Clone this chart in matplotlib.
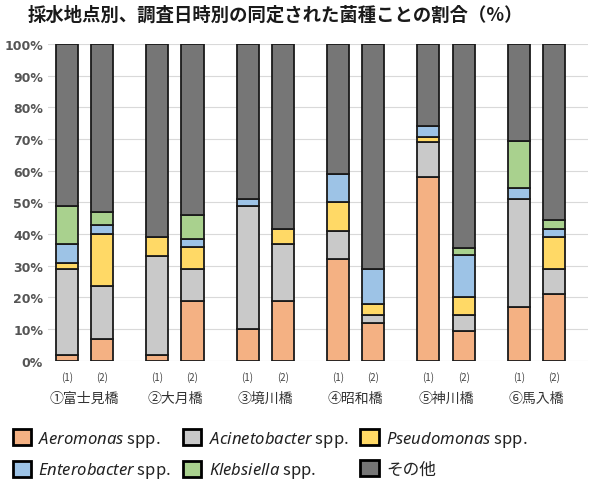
import matplotlib
matplotlib.use("Agg")
import matplotlib.pyplot as plt
from matplotlib.patches import Patch
import numpy as np

plt.rcParams['font.family'] = ['Noto Sans CJK JP', 'DejaVu Sans']
plt.rcParams['mathtext.fontset'] = 'custom'
plt.rcParams['mathtext.it'] = 'Noto Sans:italic'
plt.rcParams['mathtext.rm'] = 'Noto Sans'

sites = ["①富士見橋", "②大月橋", "③境川橋", "④昭和橋", "⑤神川橋", "⑥馬入橋"]
surveys = ["(1)", "(2)"]

# percentages per bar, ordered site by site: (1), (2)
aeromonas     = [2, 7, 2, 19, 10, 19, 32, 12, 58, 9.5, 17, 21]
acinetobacter = [27, 16.5, 31, 10, 39, 18, 9, 2.5, 11, 5, 34, 8]
pseudomonas   = [2, 16.5, 6, 7, 0, 4.5, 9, 3.5, 1.5, 5.5, 0, 10]
enterobacter  = [6, 3, 0, 2.5, 2, 0, 9, 11, 3.5, 13.5, 3.5, 2.5]
klebsiella    = [12, 4, 0, 7.5, 0, 0, 0, 0, 0, 2, 15, 3]
others        = [51, 53, 61, 54, 49, 58.5, 41, 71, 26, 64.5, 30.5, 55.5]

series = [
    (r"$\it{Aeromonas}$ spp.", aeromonas, "#F4B183"),
    (r"$\it{Acinetobacter}$ spp.", acinetobacter, "#C9C9C9"),
    (r"$\it{Pseudomonas}$ spp.", pseudomonas, "#FFD966"),
    (r"$\it{Enterobacter}$ spp.", enterobacter, "#9DC3E6"),
    (r"$\it{Klebsiella}$ spp.", klebsiella, "#A9D18E"),
    ("その他", others, "#767676"),
]

fig = plt.figure(figsize=(5.92, 4.89), dpi=100)
ax = fig.add_axes([0.081, 0.26, 0.912, 0.648])

centers = np.arange(len(sites))
offset = 0.195
width = 0.245
xpos = np.ravel(np.column_stack([centers - offset, centers + offset]))

bottom = np.zeros(len(xpos))
handles = []
for label, vals, color in series:
    vals = np.array(vals, dtype=float)
    ax.bar(xpos, vals, width, bottom=bottom, color=color,
           edgecolor="#1a1a1a", linewidth=1.3, zorder=3)
    bottom += vals
    handles.append(Patch(facecolor=color, edgecolor="black", linewidth=2, label=label))

ax.set_ylim(0, 100)
ax.set_xlim(-0.404, 5.57)
ax.set_yticks(np.arange(0, 101, 10))
ax.set_yticklabels([f"{v}%" for v in range(0, 101, 10)],
                   fontsize=9, fontweight="bold", color="#555555",
                   family=["DejaVu Sans"])
ax.set_xticks(xpos)
ax.set_xticklabels(surveys * len(sites), fontsize=7, color="#444444")
ax.tick_params(length=0)
ax.tick_params(axis="y", pad=3.5)
ax.tick_params(axis="x", pad=7)
ax.grid(axis="y", color="#d9d9d9", linewidth=0.8, zorder=0)
for s in ax.spines.values():
    s.set_visible(False)

for c, name in zip(centers, sites):
    ax.text(c, -0.117, name, transform=ax.get_xaxis_transform(),
            ha="center", va="center", fontsize=10, color="#333333")

fig.text(0.465, 0.968, "採水地点別、調査日時別の同定された菌種ことの割合（%）",
         ha="center", va="center", fontsize=13.2, fontweight="bold", color="#1a1a1a")

order = [0, 3, 1, 4, 2, 5]
fig.legend([handles[i] for i in order], [handles[i].get_label() for i in order],
           ncol=3, loc="upper left", bbox_to_anchor=(-0.004, 0.152),
           frameon=False, fontsize=12, handlelength=1.1, handleheight=1.1,
           handletextpad=0.45, columnspacing=0.7, labelspacing=0.7,
           labelcolor="#222222")

fig.savefig("out.png", dpi=100)
